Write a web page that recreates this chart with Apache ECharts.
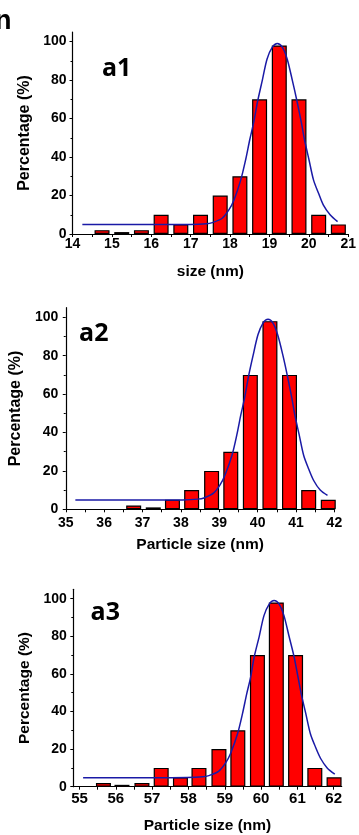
<!DOCTYPE html>
<html>
<head>
<meta charset="utf-8">
<script src="https://cdn.jsdelivr.net/npm/echarts@6/dist/echarts.min.js"></script>
<style>
html,body{margin:0;padding:0;background:#fff;}
#chart{width:359px;height:835px;}
</style>
</head>
<body>
<div id="chart"></div>
<script>
// ---- data ----
const sizes1 = [14.75,15.25,15.75,16.25,16.75,17.25,17.75,18.25,18.75,19.25,19.75,20.25,20.75];
const pct1   = [2,1,2,10,5,10,20,30,70,98,70,10,5];
const sizes2 = [36.77,37.28,37.78,38.28,38.8,39.3,39.81,40.32,40.83,41.33,41.84];
const pct2   = [2,1,5,10,20,30,70,98,70,10,5];
const sizes3 = [55.66,56.17,56.72,57.25,57.78,58.29,58.84,59.36,59.9,60.42,60.95,61.48,62.01];
const pct3   = [2,1,2,10,5,10,20,30,70,98,70,10,5];

const fitX1 = [14.25,15,16,17,17.4,17.55,17.8,17.97,18.1,18.27,18.4,18.5,18.6,18.7,18.82,18.94,19.07,19.2,19.33,19.45,19.58,19.7,19.81,19.89,20.0,20.12,20.25,20.37,20.54,20.73];
const fitY1 = [5,5,5,5,5.3,5.9,8.2,12.5,17.7,28,39,49,58,69,80,91,97,99,97,91,80,69,58,49,39,28,21,15,10,6.4];
const fitX2 = [35.25,36.01,37.03,38.04,38.44,38.6,38.85,39.02,39.15,39.33,39.46,39.56,39.66,39.76,39.88,40.01,40.14,40.27,40.4,40.52,40.66,40.78,40.89,40.97,41.08,41.2,41.33,41.46,41.63,41.82];
const fitY2 = [4.8,4.8,4.8,4.9,5.3,5.9,8.4,12.7,17.9,28,39,49,58,69,80,91,97,99,97,91,80,69,58,49,39,28,21,15,10,7.2];
const fitX3 = [55.1,55.78,56.87,57.96,58.4,58.56,58.83,59.02,59.16,59.35,59.49,59.6,59.71,59.81,59.95,60.08,60.22,60.36,60.5,60.63,60.77,60.91,61.02,61.11,61.23,61.36,61.5,61.64,61.82,62.03];
const fitY3 = [4.8,4.8,4.8,4.9,5.3,5.9,8.2,12.5,17.7,28,39,49,58,69,80,91,97,99,97,91,80,69,58,49,39,28,21,15,10,6.7];

const xLabels1 = [14,15,16,17,18,19,20,21];
const xLabels2 = [35,36,37,38,39,40,41,42];
const xLabels3 = [55,56,57,58,59,60,61,62];
const yLabels  = [0,20,40,60,80,100];
const yMinor   = [10,30,50,70,90];
const xName1 = 'size (nm)';
const xName2 = 'Particle size (nm)';
const xName3 = 'Particle size (nm)';
const yName  = 'Percentage (%)';
const panelTags = ['a1','a2','a3'];

// ---- chart building ----
const FONT = 'Liberation Sans';
function halfTicks(lo, hi){ const t=[]; for(let v=lo; v<=hi+1e-9; v+=0.5) t.push(+v.toFixed(2)); return t; }

const panels = [
  {grid:{left:72.5, top:32, width:277.5, height:202}, xmin:14, xmax:21, labels:xLabels1, name:xName1,
   xfs:14, xmargin:3, nameGap:30, ymargin:6, yNameGap:37, yNameSize:16, sizes:sizes1, pct:pct1, fx:fitX1, fy:fitY1},
  {grid:{left:61, top:307.7, width:273.4, height:201.6}, xmin:35, xmax:42, labels:xLabels2, name:xName2,
   xfs:14, xmargin:7, nameGap:27, ymargin:7.5, yNameGap:33, yNameSize:16, sizes:sizes2, pct:pct2, fx:fitX2, fy:fitY2},
  {grid:{left:73.3, top:589.3, width:268.4, height:197.4}, xmin:54.83, xmax:62.22, labels:xLabels3, name:xName3,
   xfs:15, xmargin:5, nameGap:31, ymargin:6.5, yNameGap:34, yNameSize:15.5, sizes:sizes3, pct:pct3, fx:fitX3, fy:fitY3}
];

const option = {
  animation:false,
  backgroundColor:'#fff',
  grid:[], xAxis:[], yAxis:[], series:[],
  graphic:[
    {type:'text', x:-5, y:8, style:{text:'n', font:'bold 27px "Liberation Sans"', fill:'#000'}}
  ]
};
const tagPos = [[116.7,68.5],[93.8,334],[105.3,613]];

panels.forEach((p,i)=>{
  option.grid.push(p.grid);
  option.xAxis.push({
    type:'value', gridIndex:i, min:p.xmin, max:p.xmax,
    name:p.name, nameLocation:'middle', nameGap:p.nameGap,
    nameTextStyle:{fontFamily:FONT, fontWeight:'bold', fontSize:15.5, color:'#000'},
    axisLine:{show:true, onZero:false, lineStyle:{color:'#000', width:1.2}},
    axisTick:{show:true, inside:false, length:3, lineStyle:{color:'#000', width:1},
      customValues: halfTicks(Math.ceil(p.xmin*2)/2, p.xmax)},
    axisLabel:{customValues:p.labels, margin:p.xmargin, fontFamily:FONT, fontWeight:'bold', fontSize:p.xfs, color:'#000'},
    splitLine:{show:false}
  });
  option.yAxis.push({
    type:'value', gridIndex:i, min:0, max:105,
    name:yName, nameLocation:'middle', nameGap:p.yNameGap, nameRotate:90,
    nameTextStyle:{fontFamily:FONT, fontWeight:'bold', fontSize:p.yNameSize, color:'#000'},
    axisLine:{show:true, onZero:false, lineStyle:{color:'#000', width:1.2}},
    axisTick:{show:true, inside:false, length:3, customValues:yLabels, lineStyle:{color:'#000', width:1}},
    axisLabel:{customValues:yLabels, margin:p.ymargin, fontFamily:FONT, fontWeight:'bold', fontSize:14, color:'#000'},
    splitLine:{show:false}
  });
  option.yAxis.push({
    type:'value', gridIndex:i, min:0, max:105, position:'left',
    axisLine:{show:false},
    axisTick:{show:true, inside:false, length:2, customValues:yMinor, lineStyle:{color:'#000', width:1}},
    axisLabel:{show:false}, splitLine:{show:false}
  });
  option.series.push({
    type:'bar', xAxisIndex:i, yAxisIndex:2*i, barWidth:15,
    itemStyle:{color:'#ff0000', borderColor:'#000', borderWidth:1.2},
    data:p.sizes.map((x,k)=>[x,p.pct[k]])
  });
  option.series.push({
    type:'line', xAxisIndex:i, yAxisIndex:2*i, showSymbol:false, smooth:0.3, z:5,
    lineStyle:{color:'#1a1aa6', width:1.5},
    data:p.fx.map((x,k)=>[x,p.fy[k]])
  });
  option.graphic.push({type:'text', x:tagPos[i][0], y:tagPos[i][1],
    style:{text:panelTags[i], font:'bold 25px "Open Sans"', fill:'#000', align:'center', verticalAlign:'middle'}});
});

const chart = echarts.init(document.getElementById('chart'), null, {renderer:'canvas'});
chart.setOption(option);
</script>
</body>
</html>
